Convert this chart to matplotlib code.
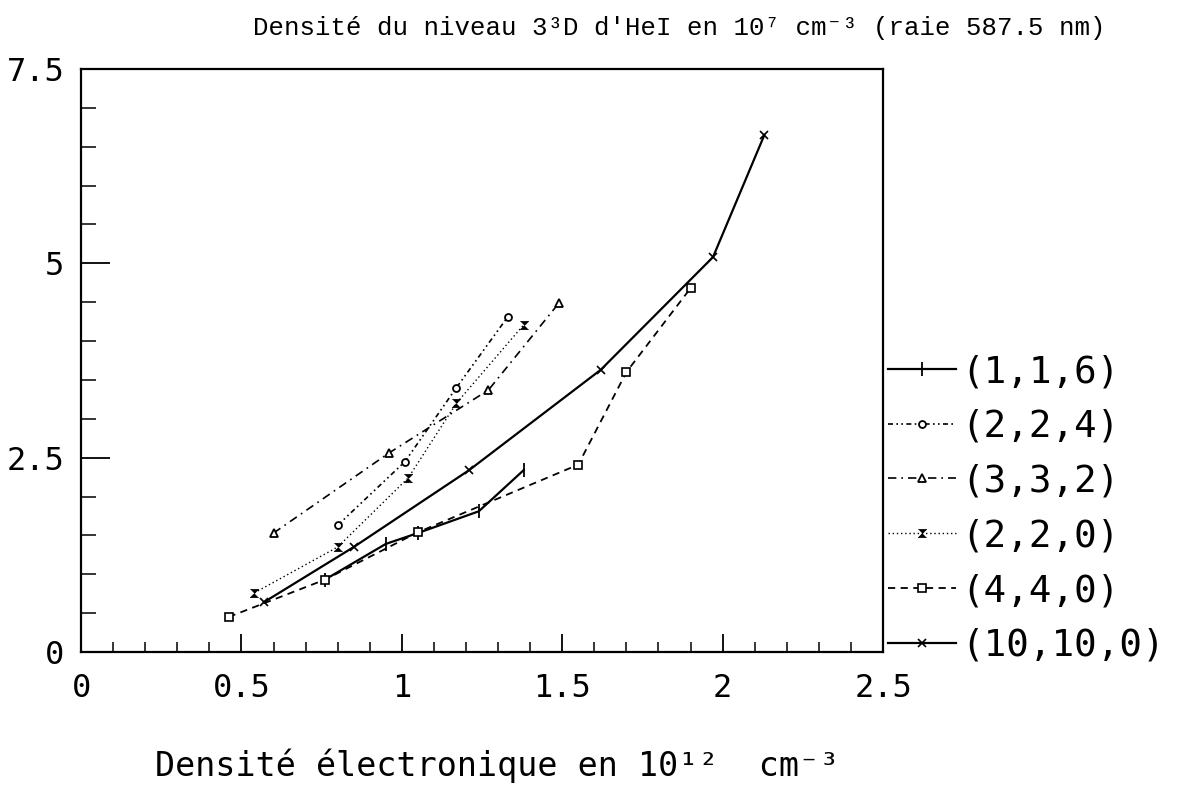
import numpy as np
import matplotlib
matplotlib.use("Agg")
import matplotlib.pyplot as plt
from matplotlib.ticker import MultipleLocator

# data
x_116 = [0.76, 0.95, 1.05, 1.24, 1.38]
y_116 = [0.93, 1.39, 1.53, 1.81, 2.34]

x_224 = [0.80, 1.01, 1.17, 1.33]
y_224 = [1.63, 2.45, 3.40, 4.31]

x_332 = [0.60, 0.96, 1.27, 1.49]
y_332 = [1.53, 2.56, 3.37, 4.49]

x_220 = [0.54, 0.80, 1.02, 1.17, 1.38]
y_220 = [0.76, 1.35, 2.24, 3.20, 4.21]

x_440 = [0.46, 0.76, 1.05, 1.55, 1.70, 1.90]
y_440 = [0.45, 0.93, 1.54, 2.41, 3.60, 4.68]

x_10100 = [0.57, 0.85, 1.21, 1.62, 1.97, 2.13]
y_10100 = [0.64, 1.35, 2.34, 3.63, 5.08, 6.65]

labels = ["(1,1,6)", "(2,2,4)", "(3,3,2)", "(2,2,0)", "(4,4,0)", "(10,10,0)"]
xticks = [0, 0.5, 1, 1.5, 2, 2.5]
xticklabels = ["0", "0.5", "1", "1.5", "2", "2.5"]
yticks = [0, 2.5, 5, 7.5]
yticklabels = ["0", "2.5", "5", "7.5"]

mono = ["DejaVu Sans Mono"]
courier = ["Liberation Mono", "DejaVu Sans Mono"]

fig = plt.figure(figsize=(11.78, 7.92), dpi=100)
ax = fig.add_axes([0.0688, 0.1768, 0.6808, 0.7361])

hourglass = [(-1, 1), (1, 1), (-1, -1), (1, -1)]

ax.plot(x_116, y_116, color="black", lw=1.6, marker="|", ms=10, mew=1.3,
        label=labels[0])
ax.plot(x_224, y_224, color="black", lw=1.2, dashes=(3, 2, 1, 2, 1, 2),
        marker="o", ms=5, mfc="white", mew=1.3, label=labels[1])
ax.plot(x_332, y_332, color="black", lw=1.2, dashes=(5, 3, 1, 3),
        marker="^", ms=6, mfc="white", mew=1.3, label=labels[2])
ax.plot(x_220, y_220, color="black", lw=1.0, dashes=(1, 2),
        marker=hourglass, ms=6, mfc="black", mew=0.5, label=labels[3])
ax.plot(x_440, y_440, color="black", lw=1.3, dashes=(4, 3),
        marker="s", ms=6, mfc="white", mew=1.2, label=labels[4])
ax.plot(x_10100, y_10100, color="black", lw=1.6, marker="x", ms=6, mew=1.2,
        label=labels[5])

ax.set_xlim(0, 2.5)
ax.set_ylim(0, 7.5)
ax.set_xticks(xticks, labels=xticklabels, family=mono, fontsize=23)
ax.set_yticks(yticks, labels=yticklabels, family=mono, fontsize=23)
ax.xaxis.set_minor_locator(MultipleLocator(0.1))
ax.yaxis.set_minor_locator(MultipleLocator(0.5))
ax.tick_params(axis="x", which="major", direction="in", length=13, width=1.3, pad=15)
ax.tick_params(axis="x", which="minor", direction="in", length=7, width=1.1)
ax.tick_params(axis="y", which="major", direction="in", length=21, width=1.3, pad=12)
ax.tick_params(axis="y", which="minor", direction="in", length=11, width=1.1)
for s in ax.spines.values():
    s.set_linewidth(1.6)

fig.text(0.215, 0.965, "Densité du niveau 3³D d'HeI en 10⁷ cm⁻³ (raie 587.5 nm)",
         family=courier, fontsize=18.5, ha="left", va="center")
fig.text(0.132, 0.02, "Densité électronique en 10¹²  cm⁻³",
         family=mono, fontsize=24, ha="left", va="baseline")

leg = ax.legend(loc="upper left", bbox_to_anchor=(0.754, 0.553),
                bbox_transform=fig.transFigure, frameon=False, numpoints=1,
                handlelength=1.8, handletextpad=0.15, labelspacing=0.5,
                borderpad=0, borderaxespad=0, prop={"family": mono, "size": 27})

fig.savefig("out.png", dpi=100, facecolor="white")
